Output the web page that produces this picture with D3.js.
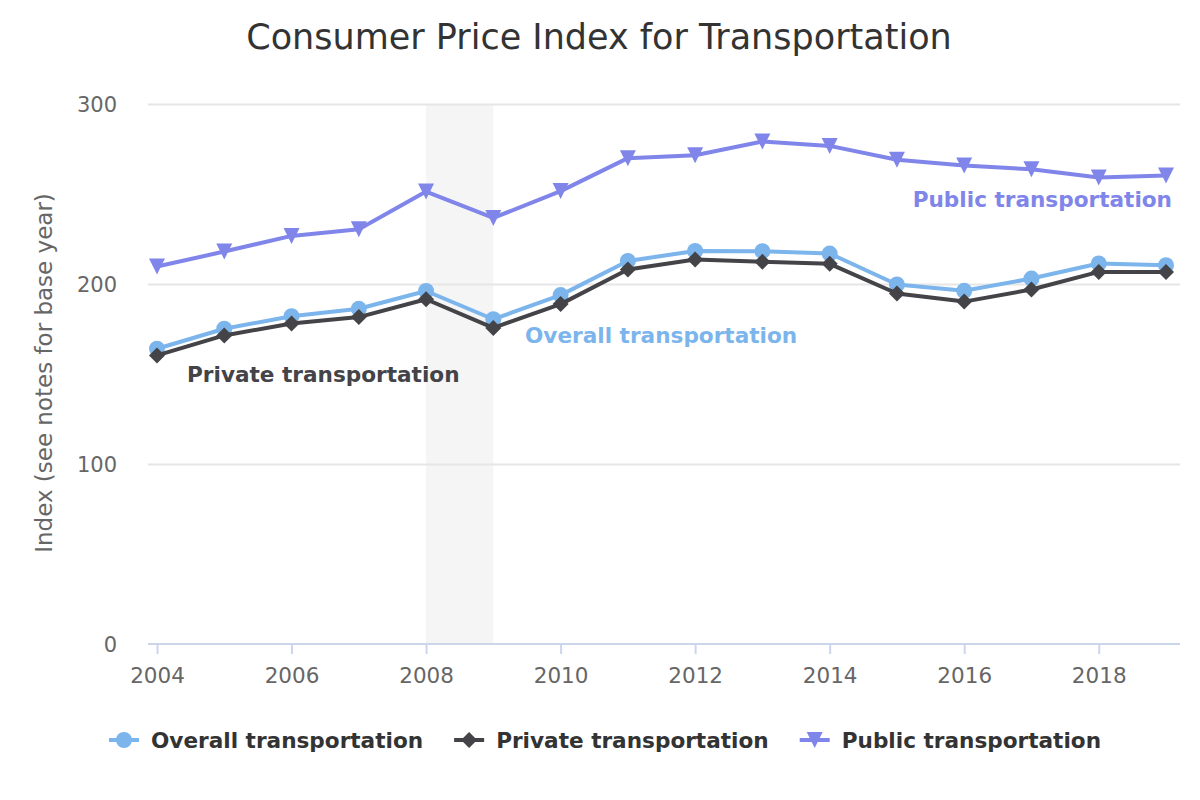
<!DOCTYPE html>
<html>
<head>
<meta charset="utf-8">
<script src="https://cdn.jsdelivr.net/npm/d3@7"></script>
<style>
  body { margin: 0; background: #fff; }
  text { font-family: "DejaVu Sans", Verdana, sans-serif; }
</style>
</head>
<body>
<div id="chart-area"></div>
<script>
var years = [2004, 2005, 2006, 2007, 2008, 2009, 2010, 2011, 2012, 2013, 2014, 2015, 2016, 2017, 2018, 2019];
var overall = [164.3, 175.4, 182.4, 186.5, 196.4, 180.7, 194.1, 213.1, 218.6, 218.5, 217.2, 200.0, 196.5, 203.3, 211.7, 210.7];
var privateT = [160.6, 171.7, 178.3, 181.9, 191.8, 175.9, 189.1, 208.3, 213.9, 212.6, 211.5, 195.0, 190.5, 197.2, 207.0, 206.9];
var publicT = [210.0, 218.3, 227.0, 230.7, 251.6, 237.0, 251.9, 270.2, 271.8, 279.4, 277.0, 269.3, 266.1, 264.0, 259.4, 260.6];
var yTicks = [0, 100, 200, 300];
var xTicks = [2004, 2006, 2008, 2010, 2012, 2014, 2016, 2018];
var recession = [2008, 2009];

var series = [
	{ name: "Overall transportation", values: overall, color: "#7cb5ec", symbol: "circle" },
	{ name: "Private transportation", values: privateT, color: "#434348", symbol: "diamond" },
	{ name: "Public transportation", values: publicT, color: "#8085e9", symbol: "triangle-down" }
];

var width = 1200, height = 800;
var plotLeft = 148, plotRight = 1180, plotTop = 105, plotBottom = 645;

var svg = d3.select("#chart-area")
	.append("svg")
	.attr("width", width)
	.attr("height", height);

var xScale = d3.scaleLinear()
	.domain([2004, 2019])
	.range([157, 1166]);

var yScale = d3.scaleLinear()
	.domain([0, 300])
	.range([plotBottom - 0.5, plotTop - 0.5]);

// marker path, centred on 0,0
function markerPath(type, r) {
	if (type === "circle") {
		return "M" + (-r) + ",0A" + r + "," + r + " 0 1,0 " + r + ",0A" + r + "," + r + " 0 1,0 " + (-r) + ",0Z";
	} else if (type === "diamond") {
		return "M0," + (-r) + "L" + r + ",0L0," + r + "L" + (-r) + ",0Z";
	} else {
		return "M" + (-r) + "," + (-r) + "L" + r + "," + (-r) + "L0," + r + "Z";
	}
}

// title
svg.append("text")
	.attr("x", 599)
	.attr("y", 49)
	.attr("text-anchor", "middle")
	.attr("font-size", "35px")
	.attr("fill", "#333333")
	.text("Consumer Price Index for Transportation");

// recession band
svg.append("rect")
	.attr("x", xScale(recession[0]))
	.attr("y", plotTop)
	.attr("width", xScale(recession[1]) - xScale(recession[0]))
	.attr("height", plotBottom - plotTop)
	.attr("fill", "#f5f5f5");

// gridlines
svg.append("g")
	.selectAll("line")
	.data(yTicks.filter(d => d > 0))
	.enter().append("line")
	.attr("x1", plotLeft)
	.attr("x2", plotRight)
	.attr("y1", d => yScale(d))
	.attr("y2", d => yScale(d))
	.attr("stroke", "#e6e6e6")
	.attr("stroke-width", 2);

// y axis labels
var yAxis = d3.axisLeft(yScale).tickValues(yTicks).tickSize(0).tickPadding(31);
var yAxisG = svg.append("g")
	.attr("transform", "translate(" + plotLeft + ",0)")
	.call(yAxis);
yAxisG.select(".domain").remove();
yAxisG.selectAll("text")
	.attr("font-family", "DejaVu Sans, sans-serif")
	.attr("font-size", "21px")
	.attr("fill", "#666666");

// x axis
var xAxis = d3.axisBottom(xScale).tickValues(xTicks).tickFormat(d3.format("d")).tickSize(10).tickPadding(14).tickSizeOuter(0);
var xAxisG = svg.append("g")
	.attr("transform", "translate(0," + (plotBottom - 1) + ")")
	.call(xAxis);
xAxisG.select(".domain")
	.attr("d", "M" + plotLeft + ",0H" + plotRight)
	.attr("stroke", "#ccd6eb")
	.attr("stroke-width", 2);
xAxisG.selectAll(".tick line")
	.attr("stroke", "#ccd6eb")
	.attr("stroke-width", 2);
xAxisG.selectAll("text")
	.attr("font-family", "DejaVu Sans, sans-serif")
	.attr("font-size", "21.5px")
	.attr("fill", "#666666");

// y axis title
svg.append("text")
	.attr("transform", "translate(52,373) rotate(-90)")
	.attr("text-anchor", "middle")
	.attr("font-size", "23px")
	.attr("fill", "#666666")
	.text("Index (see notes for base year)");

var line = d3.line()
	.x((d, i) => xScale(years[i]))
	.y(d => yScale(d));

series.forEach(function (s) {
	var g = svg.append("g");
	g.append("path")
		.attr("d", line(s.values))
		.attr("fill", "none")
		.attr("stroke", s.color)
		.attr("stroke-width", 4)
		.attr("stroke-linejoin", "round");
	g.selectAll("path.marker")
		.data(s.values)
		.enter().append("path")
		.attr("class", "marker")
		.attr("transform", (d, i) => "translate(" + xScale(years[i]) + "," + yScale(d) + ")")
		.attr("d", markerPath(s.symbol, 8))
		.attr("fill", s.color);
});

// series labels
var labels = [
	{ text: "Private transportation", x: 187, y: 382, anchor: "start", color: "#434348" },
	{ text: "Overall transportation", x: 525, y: 343, anchor: "start", color: "#7cb5ec" },
	{ text: "Public transportation", x: 1172, y: 207, anchor: "end", color: "#8085e9" }
];
svg.selectAll("text.series-label")
	.data(labels)
	.enter().append("text")
	.attr("class", "series-label")
	.attr("x", d => d.x)
	.attr("y", d => d.y)
	.attr("text-anchor", d => d.anchor)
	.attr("font-size", "21.6px")
	.attr("font-weight", "bold")
	.attr("fill", d => d.color)
	.text(d => d.text);

// legend
var legend = svg.append("g");
var lx = 0;
series.forEach(function (s) {
	var item = legend.append("g").attr("transform", "translate(" + lx + ",0)");
	item.append("line")
		.attr("x1", 0).attr("x2", 30)
		.attr("y1", 0).attr("y2", 0)
		.attr("stroke", s.color)
		.attr("stroke-width", 4);
	item.append("path")
		.attr("transform", "translate(15,0)")
		.attr("d", markerPath(s.symbol, 8))
		.attr("fill", s.color);
	var t = item.append("text")
		.attr("x", 42)
		.attr("y", 8)
		.attr("font-size", "21.6px")
		.attr("font-weight", "bold")
		.attr("fill", "#333333")
		.text(s.name);
	lx += 42 + t.node().getComputedTextLength() + 31;
});
var legendWidth = lx - 31;
legend.attr("transform", "translate(" + (605 - legendWidth / 2) + ",740)");
</script>
</body>
</html>
